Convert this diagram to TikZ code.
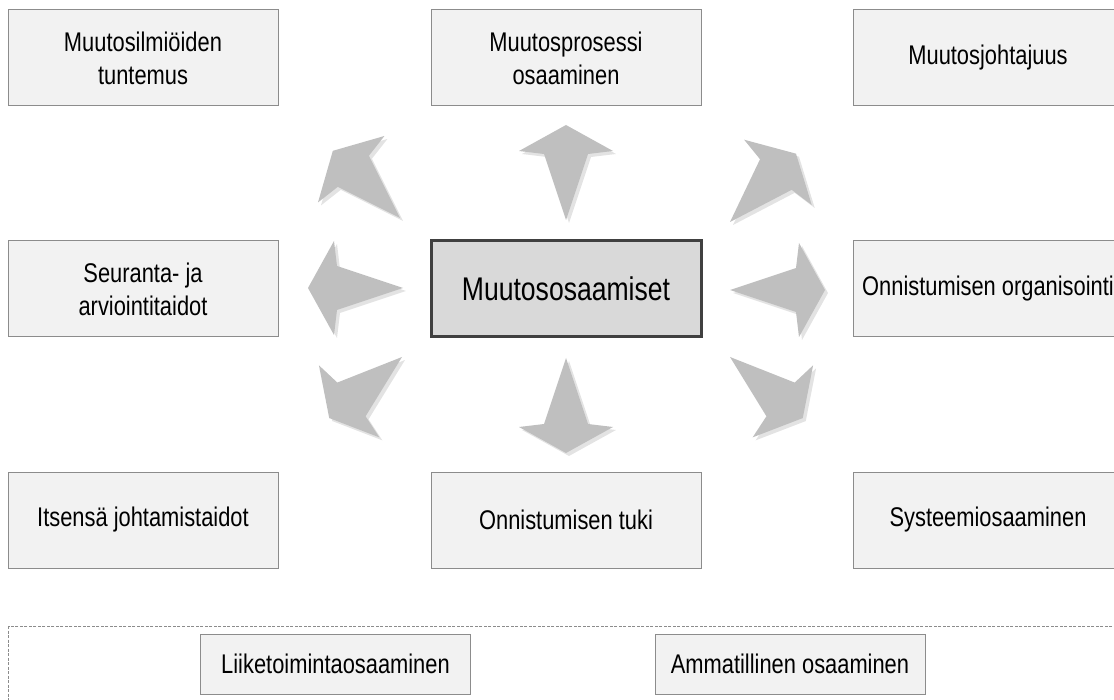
\documentclass[tikz,border=0pt]{standalone}
\usepackage{fontspec}
\setmainfont{Liberation Sans}[FakeStretch=0.81]

\definecolor{rahmen}{HTML}{8C8C8C}
\definecolor{kastenfarbe}{HTML}{F2F2F2}
\definecolor{zentrumfarbe}{HTML}{D9D9D9}
\definecolor{zentrumrahmen}{HTML}{404040}
\definecolor{pfeilfarbe}{HTML}{BFBFBF}
\definecolor{schattenfarbe}{HTML}{E3E3E3}

% Form eines Blockpfeils (Schwanz bei (0,0), Spitze nach rechts)
\newcommand{\pfeilpfad}{(0,0) -- (66,22) -- (69,47) -- (95,0) -- (69,-47) -- (66,-22) -- cycle}

\begin{document}
\begin{tikzpicture}[x=1pt,y=-1pt,
		kasten/.style={draw=rahmen, fill=kastenfarbe, line width=1pt, minimum width=270pt, minimum height=96pt, align=center, font=\fontsize{27}{33}\selectfont},
		zentrum/.style={draw=zentrumrahmen, fill=zentrumfarbe, line width=3pt, minimum width=270pt, minimum height=96pt, font=\fontsize{32.8}{38}\selectfont},
		unten/.style={kasten, minimum height=60pt},
		pfeil/.style={fill=pfeilfarbe},
		schatten/.style={fill=schattenfarbe}]
		\clip (0,0) rectangle (1114,700);
		
		% Obere Reihe
		\node[kasten] (ilmiot) at (143,58) {Muutosilmiöiden\\tuntemus};
		\node[kasten] (prosessi) at (566,58) {Muutosprosessi\\osaaminen};
		\node[kasten] (johtajuus) at (988,58) {Muutosjohtajuus};
		
		% Mittlere Reihe
		\node[kasten] (seuranta) at (143,289) {Seuranta- ja\\arviointitaidot};
		\node[zentrum] (keski) at (566,289) {Muutososaamiset};
		\node[kasten] (organisointi) at (988,289) {Onnistumisen organisointi};
		
		% Untere Reihe
		\node[kasten] (itse) at (143,520) {Itsensä johtamistaidot};
		\node[kasten] (tuki) at (566,520) {Onnistumisen tuki};
		\node[kasten] (systeemi) at (988,520) {Systeemiosaaminen};
		
		% Pfeile rund um die Mitte (Winkel/Schwanz x/Schwanz y)
		\foreach \w/\x/\y in {0/730/290, 46/730/222, 90/566/220, 135/400/218, 180/403/288, 220/402/357, 270/566/358, 320/730/357} {
			\fill[schatten, shift={(\x+3,\y+3)}, rotate=\w] \pfeilpfad;
			\fill[pfeil, shift={(\x,\y)}, rotate=\w] \pfeilpfad;
		}
		
		% Gestrichelter Rahmen unten
		\draw[rahmen, line width=0.8pt, dash pattern=on 3pt off 1.5pt] (8.5,626) rectangle (1130,720);
		\node[unten] (liike) at (335.5,664) {Liiketoimintaosaaminen};
		\node[unten] (ammatti) at (790,664) {Ammatillinen osaaminen};
	\end{tikzpicture}
\end{document}
